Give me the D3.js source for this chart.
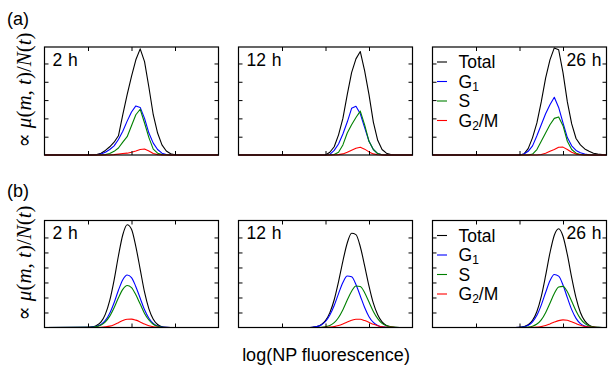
<!DOCTYPE html>
<html>
<head>
<meta charset="utf-8">
<script src="https://cdn.jsdelivr.net/npm/d3@7"></script>
<style>
body { margin: 0; background: #fff; }
svg { display: block; }
</style>
</head>
<body>
<div id="chart"></div>
<script>
// common x grid (log fluorescence, arbitrary units)
const xs = [0, 1.0,1.1,1.2,1.3,1.4,1.5,1.6,1.7,1.8,1.9, 2.0,2.1,2.2,2.3,2.4,2.5,2.6,2.7,2.8,2.9, 3.0,3.1,3.2,3.3,3.4,3.5,3.6,3.7,3.8,3.9, 4];

const seriesNames = ["Total", "G1", "S", "G2/M"];
const seriesColors = ["#000000", "#0000ff", "#008000", "#ff0000"];
const times = ["2 h", "12 h", "26 h"];

// row (a): measured histograms
const a2hTotal = [0, 0,0,0.02,0.1,0.25,0.45,0.7,1.05,2.2,3.3, 4.3,5.2,5.8,5.1,3.7,2.2,1.2,0.55,0.22,0.07, 0.01,0,0,0,0,0,0,0,0,0, 0];
const a2hG1    = [0, 0,0,0.01,0.05,0.15,0.3,0.5,0.85,1.3,1.85, 2.35,2.68,2.6,2.0,1.2,0.65,0.3,0.1,0.03,0, 0,0,0,0,0,0,0,0,0,0, 0];
const a2hS     = [0, 0,0,0,0,0.02,0.08,0.2,0.38,0.7,1.0, 1.6,2.2,2.5,1.75,0.95,0.32,0.1,0.02,0,0, 0,0,0,0,0,0,0,0,0,0, 0];
const a2hG2M   = [0, 0,0,0,0,0,0,0.02,0.05,0.08,0.1, 0.15,0.22,0.3,0.33,0.22,0.08,0.02,0,0,0, 0,0,0,0,0,0,0,0,0,0, 0];

const a12hTotal = [0, 0,0,0,0,0,0,0,0,0,0, 0,0.15,0.45,1.1,2.0,3.3,4.5,5.25,5.65,4.6, 3.3,1.8,0.8,0.3,0.1,0.02,0,0,0,0, 0];
const a12hG1    = [0, 0,0,0,0,0,0,0,0,0,0, 0,0.03,0.25,0.6,1.15,1.8,2.55,2.66,2.25,1.5, 0.75,0.3,0.08,0.01,0,0,0,0,0,0, 0];
const a12hS     = [0, 0,0,0,0,0,0,0,0,0,0, 0,0,0.03,0.15,0.55,1.2,1.65,2.05,2.4,1.65, 0.75,0.3,0.08,0.01,0,0,0,0,0,0, 0];
const a12hG2M   = [0, 0,0,0,0,0,0,0,0,0,0, 0,0,0,0.02,0.06,0.15,0.26,0.37,0.42,0.32, 0.17,0.06,0.01,0,0,0,0,0,0,0, 0];

const a26hTotal = [0, 0,0,0,0,0,0,0,0,0,0, 0,0.05,0.35,0.95,1.75,2.9,4.2,5.2,5.85,5.75, 4.5,2.9,1.7,0.9,0.55,0.33,0.2,0.1,0.05,0.02, 0];
const a26hG1    = [0, 0,0,0,0,0,0,0,0,0,0, 0,0.05,0.2,0.5,1.05,1.65,2.25,2.75,3.15,2.6, 1.75,0.95,0.5,0.25,0.12,0.05,0.01,0,0,0, 0];
const a26hS     = [0, 0,0,0,0,0,0,0,0,0,0, 0,0,0,0.05,0.3,0.75,1.2,1.65,2.0,2.08, 1.6,0.75,0.3,0.1,0.03,0,0,0,0,0, 0];
const a26hG2M   = [0, 0,0,0,0,0,0,0,0,0,0, 0,0,0,0,0,0.03,0.1,0.2,0.3,0.42, 0.43,0.3,0.15,0.05,0.01,0,0,0,0,0, 0];

// row (b): model
const b2hTotal = [0, 0.02,0.05,0.14,0.37,0.89,1.80,3.16,4.78,6.18,6.85, 6.55,5.39,3.88,2.35,1.24,0.55,0.20,0.05,0.01,0, 0,0,0,0,0,0,0,0,0,0, 0];
const b2hG1    = [0, 0.01,0.03,0.08,0.2,0.47,0.95,1.65,2.48,3.18,3.5, 3.33,2.72,1.95,1.18,0.62,0.28,0.1,0.03,0.01,0, 0,0,0,0,0,0,0,0,0,0, 0];
const b2hS     = [0, 0.01,0.02,0.06,0.16,0.38,0.76,1.32,1.98,2.54,2.8, 2.66,2.18,1.56,0.94,0.5,0.22,0.08,0.02,0,0, 0,0,0,0,0,0,0,0,0,0, 0];
const b2hG2M   = [0, 0,0,0,0.01,0.04,0.09,0.19,0.32,0.46,0.55, 0.56,0.49,0.37,0.23,0.12,0.05,0.02,0,0,0, 0,0,0,0,0,0,0,0,0,0, 0];

const b12hTotal = [0, 0,0,0,0,0,0,0,0.02,0.06,0.18, 0.46,0.99,1.85,3.06,4.43,5.63,6.28,6.19,5.38,4.11, 2.76,1.62,0.85,0.37,0.14,0.05,0.01,0,0,0, 0];
const b12hG1    = [0, 0,0,0,0,0,0,0,0.02,0.06,0.17, 0.40,0.83,1.47,2.26,3.00,3.43,3.38,2.87,2.10,1.33, 0.72,0.34,0.14,0.05,0.01,0,0,0,0,0, 0];
const b12hS     = [0, 0,0,0,0,0,0,0,0,0,0.01, 0.05,0.13,0.32,0.67,1.19,1.83,2.42,2.77,2.73,2.32, 1.70,1.07,0.59,0.27,0.11,0.04,0.01,0,0,0, 0];
const b12hG2M   = [0, 0,0,0,0,0,0,0,0,0,0, 0.01,0.03,0.06,0.13,0.24,0.37,0.48,0.55,0.55,0.46, 0.34,0.21,0.12,0.05,0.02,0.01,0,0,0,0, 0];

const b26hTotal = [0, 0,0,0,0,0,0,0,0,0,0, 0.01,0.06,0.18,0.48,1.07,2.06,3.45,4.97,6.15,6.58, 6.08,4.85,3.32,1.97,1.00,0.44,0.16,0.04,0.01,0, 0];
const b26hG1    = [0, 0,0,0,0,0,0,0,0,0,0, 0.01,0.05,0.15,0.38,0.81,1.49,2.33,3.11,3.53,3.42, 2.83,1.99,1.19,0.61,0.26,0.10,0.03,0,0,0, 0];
const b26hS     = [0, 0,0,0,0,0,0,0,0,0,0, 0,0.01,0.03,0.09,0.23,0.51,0.99,1.62,2.26,2.70, 2.74,2.38,1.75,1.10,0.59,0.27,0.10,0.03,0.01,0, 0];
const b26hG2M   = [0, 0,0,0,0,0,0,0,0,0,0, 0,0,0,0.01,0.03,0.06,0.13,0.24,0.36,0.46, 0.51,0.48,0.38,0.26,0.15,0.07,0.03,0.01,0,0, 0];

const xTicks = [1, 2, 3];
const rowA_yTicks = [1, 2, 3, 4, 5];
const rowB_yTicks = [1, 2, 3, 4, 5, 6];

const rows = [
  {tag: "(a)", tagY: 25, top: 47, height: 108, yMax: 5.9, yTicks: rowA_yTicks, smooth: false,
   panels: [[a2hTotal, a2hG1, a2hS, a2hG2M], [a12hTotal, a12hG1, a12hS, a12hG2M], [a26hTotal, a26hG1, a26hS, a26hG2M]]},
  {tag: "(b)", tagY: 197, top: 220.5, height: 107, yMax: 7.13, yTicks: rowB_yTicks, smooth: true,
   panels: [[b2hTotal, b2hG1, b2hS, b2hG2M], [b12hTotal, b12hG1, b12hS, b12hG2M], [b26hTotal, b26hG1, b26hS, b26hG2M]]}
];

const W = 609, H = 367;
const panelLeft = [44.5, 238.5, 432.5];
const panelW = 174;
const font = "'Liberation Sans', Arial, Helvetica, sans-serif";

const svg = d3.select("#chart").append("svg")
  .attr("width", W)
  .attr("height", H);

rows.forEach(function(row) {
  const bottom = row.top + row.height;

  // row tag
  svg.append("text")
    .attr("x", 7)
    .attr("y", row.tagY)
    .attr("font-family", font)
    .attr("font-size", 18)
    .text(row.tag);

  // y label
  const yl = svg.append("text")
    .attr("transform", `translate(31,${row.top + row.height / 2 - 11}) rotate(-90)`)
    .attr("text-anchor", "middle")
    .attr("font-family", "'Liberation Serif', 'DejaVu Serif', serif")
    .attr("font-size", 21);
  yl.append("tspan").text("\u221D ");
  yl.append("tspan").attr("font-style", "italic").text("\u03BC");
  yl.append("tspan").text("(");
  yl.append("tspan").attr("font-style", "italic").text("m");
  yl.append("tspan").text(", ");
  yl.append("tspan").attr("font-style", "italic").text("t");
  yl.append("tspan").text(")/");
  yl.append("tspan").attr("font-style", "italic").text("N");
  yl.append("tspan").text("(");
  yl.append("tspan").attr("font-style", "italic").text("t");
  yl.append("tspan").text(")");

  row.panels.forEach(function(series, pi) {
    const x0 = panelLeft[pi];
    const x = d3.scaleLinear().domain([0, 4]).range([x0, x0 + panelW]);
    const y = d3.scaleLinear().domain([0, row.yMax]).range([bottom, row.top]);

    const line = d3.line()
      .x((d, i) => x(xs[i]))
      .y(d => y(d))
      .curve(row.smooth ? d3.curveMonotoneX : d3.curveLinear);

    const g = svg.append("g");

    series.forEach(function(vals, si) {
      g.append("path")
        .datum(vals)
        .attr("d", line)
        .attr("fill", "none")
        .attr("stroke", seriesColors[si])
        .attr("stroke-width", 1.1)
        .attr("stroke-linejoin", "round");
    });

    // inward ticks on all four sides
    const tickStyle = sel => {
      sel.select(".domain").remove();
      sel.selectAll(".tick line").attr("stroke", "#000").attr("stroke-width", 1);
    };
    g.append("g").attr("transform", `translate(0,${bottom})`)
      .call(d3.axisBottom(x).tickValues(xTicks).tickSize(-4).tickFormat(""))
      .call(tickStyle);
    g.append("g").attr("transform", `translate(0,${row.top})`)
      .call(d3.axisTop(x).tickValues(xTicks).tickSize(-4).tickFormat(""))
      .call(tickStyle);
    g.append("g").attr("transform", `translate(${x0},0)`)
      .call(d3.axisLeft(y).tickValues(row.yTicks).tickSize(-4).tickFormat(""))
      .call(tickStyle);
    g.append("g").attr("transform", `translate(${x0 + panelW},0)`)
      .call(d3.axisRight(y).tickValues(row.yTicks).tickSize(-4).tickFormat(""))
      .call(tickStyle);

    // frame
    g.append("rect")
      .attr("x", x0)
      .attr("y", row.top)
      .attr("width", panelW)
      .attr("height", row.height)
      .attr("fill", "none")
      .attr("stroke", "#000")
      .attr("stroke-width", 1.2);

    // time label
    const last = pi === row.panels.length - 1;
    g.append("text")
      .attr("x", last ? x0 + panelW - 5 : x0 + 8)
      .attr("y", row.top + 18.5)
      .attr("text-anchor", last ? "end" : "start")
      .attr("font-family", font)
      .attr("font-size", 17.5)
      .attr("word-spacing", 1)
      .text(times[pi]);

    // legend in the last panel
    if (last) {
      const offs = [15, 34.5, 54, 73.5];
      seriesNames.forEach(function(name, si) {
        const ly = row.top + offs[si];
        g.append("line")
          .attr("x1", x0 + 4.5).attr("x2", x0 + 14.5)
          .attr("y1", ly).attr("y2", ly)
          .attr("stroke", seriesColors[si])
          .attr("stroke-width", 1.1);
        const t = g.append("text")
          .attr("x", x0 + 26)
          .attr("y", ly + 6)
          .attr("font-family", font)
          .attr("font-size", 17.5);
        if (name === "G1") {
          t.append("tspan").text("G");
          t.append("tspan").attr("font-size", 12).attr("dy", 3).text("1");
        } else if (name === "G2/M") {
          t.append("tspan").text("G");
          t.append("tspan").attr("font-size", 12).attr("dy", 3).text("2");
          t.append("tspan").attr("dy", -3).text("/M");
        } else {
          t.text(name);
        }
      });
    }
  });
});

// x label
svg.append("text")
  .attr("x", 326)
  .attr("y", 361)
  .attr("text-anchor", "middle")
  .attr("font-family", font)
  .attr("font-size", 18)
  .text("log(NP fluorescence)");
</script>
</body>
</html>
